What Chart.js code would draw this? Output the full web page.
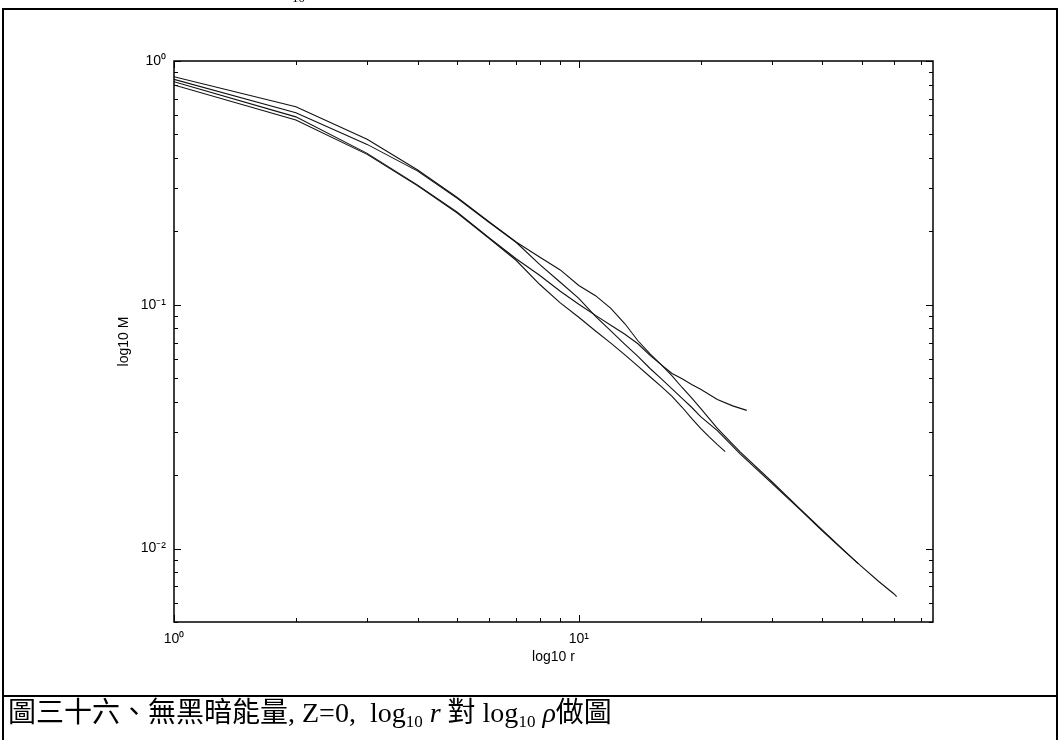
<!DOCTYPE html>
<html>
<head>
<meta charset="utf-8">
<script src="https://cdn.jsdelivr.net/npm/chart.js@4.4.1/dist/chart.umd.min.js"></script>
<style>
    html, body { margin: 0; padding: 0; background: #fff; width: 1060px; height: 740px; overflow: hidden; }
    #chart { position: absolute; left: 0; top: 0; }
    .frame { position: absolute; left: 2px; top: 8px; width: 1056px; height: 780px; border: 2px solid #000; box-sizing: border-box; }
    .sep { position: absolute; left: 2px; top: 695px; width: 1056px; height: 2px; background: #000; }
    .caption {
        position: absolute; left: 8px; top: 696px; line-height: 34px; white-space: nowrap;
        font-family: 'Liberation Serif', 'Noto Sans CJK TC', serif; font-size: 28px; color: #000;
    }
    .caption sub { font-size: 17px; vertical-align: -5px; line-height: 0; }
    .top-bit { position: absolute; left: 292px; top: -10px; font-family: 'Liberation Serif', serif; font-size: 13px; }
</style>
</head>
<body>
<canvas id="chart" width="1060" height="695"></canvas>
<div class="frame"></div>
<div class="sep"></div>
<div class="top-bit">10</div>
<div class="caption">圖三十六、無黑暗能量, Z=0,&nbsp; log<sub>10</sub>&nbsp;<i>r</i>&nbsp;對&nbsp;log<sub>10</sub>&nbsp;<i>ρ</i>做圖</div>

<script>
// --- DADOS ---
const rA = [1, 2, 3, 4, 5, 6, 7, 8, 9, 10, 11, 12, 13, 14, 15, 16, 17, 18, 19, 20, 22, 24, 26];
const mA = [0.862, 0.649, 0.478, 0.357, 0.276, 0.219, 0.181, 0.157, 0.139, 0.120, 0.109, 0.0967, 0.0836, 0.0712, 0.0629, 0.0567, 0.0523, 0.0497, 0.0471, 0.0450, 0.0409, 0.0385, 0.0369];

const rB = [1, 2, 3, 4, 5, 6, 7, 8, 9, 10, 11, 12, 13, 14, 15, 16, 17, 18, 19, 20, 21, 22, 23];
const mB = [0.797, 0.573, 0.414, 0.3075, 0.2386, 0.1875, 0.1523, 0.1214, 0.1019, 0.0889, 0.0781, 0.0696, 0.0623, 0.0560, 0.0507, 0.0462, 0.0421, 0.0380, 0.0342, 0.0311, 0.0287, 0.0267, 0.0250];

const rC = [1, 2, 3, 4, 5, 6, 7, 8, 9, 10, 11, 12, 13, 14, 15, 16, 17, 18, 19, 20, 22, 25, 30, 35, 40, 45, 49];
const mC = [0.822, 0.590, 0.418, 0.3096, 0.2405, 0.1886, 0.1545, 0.1322, 0.1136, 0.1005, 0.0905, 0.0824, 0.0757, 0.0692, 0.0620, 0.0567, 0.0511, 0.0458, 0.0415, 0.0376, 0.0311, 0.0250, 0.0188, 0.0147, 0.0119, 0.00991, 0.00868];

const rD = [1, 2, 3, 4, 5, 6, 7, 8, 9, 10, 11, 12, 13, 14, 15, 16, 17, 18, 19, 20, 22, 25, 30, 35, 40, 45, 50, 55, 60, 61];
const mD = [0.841, 0.613, 0.455, 0.3535, 0.2738, 0.2182, 0.1805, 0.1466, 0.1237, 0.1063, 0.0897, 0.0782, 0.0688, 0.0614, 0.0548, 0.0497, 0.0452, 0.0413, 0.0380, 0.0348, 0.0305, 0.0245, 0.0185, 0.0146, 0.0118, 0.00986, 0.00844, 0.00735, 0.00653, 0.00635];

// rótulos das décadas
const xDecades = [1, 10];
const xDecadeLabels = ['10⁰', '10¹'];
const yDecades = [1, 0.1, 0.01];
const yDecadeLabels = ['10⁰', '10⁻¹', '10⁻²'];

document.addEventListener('DOMContentLoaded', () => {
    const FONT = "'Liberation Sans', Arial, sans-serif";

    const toPoints = (rs, ms) => rs.map((r, i) => ({ x: r, y: ms[i] }));

    const decadeLabel = (value, decades, labels) => {
        const i = decades.findIndex(d => Math.abs(Math.log10(value) - Math.log10(d)) < 1e-6);
        return i >= 0 ? labels[i] : '';
    };

    // --- caixa do eixo com ticks para dentro (estilo MATLAB) ---
    const axisBox = {
        id: 'axisBox',
        afterDraw(chart) {
            const { ctx, chartArea: a, scales: { x, y } } = chart;
            const isMajor = v => Math.abs(Math.log10(v) - Math.round(Math.log10(v))) < 1e-6;
            const isStep = v => {
                const m = v / Math.pow(10, Math.floor(Math.log10(v) + 1e-9));
                return Math.abs(m - Math.round(m)) < 1e-6;
            };
            const seg = (x1, y1, x2, y2) => { ctx.beginPath(); ctx.moveTo(x1, y1); ctx.lineTo(x2, y2); ctx.stroke(); };

            ctx.save();
            ctx.strokeStyle = '#000';
            ctx.lineWidth = 1;
            x.ticks.forEach(t => {
                if (!isStep(t.value)) return;
                const px = Math.round(x.getPixelForValue(t.value)) + 0.5;
                const len = isMajor(t.value) ? 7 : 4;
                seg(px, a.bottom, px, a.bottom - len);
                seg(px, a.top, px, a.top + len);
            });
            y.ticks.forEach(t => {
                if (!isStep(t.value)) return;
                const py = Math.round(y.getPixelForValue(t.value)) + 0.5;
                const len = isMajor(t.value) ? 7 : 4;
                seg(a.left, py, a.left + len, py);
                seg(a.right, py, a.right - len, py);
            });
            ctx.lineWidth = 1.5;
            ctx.strokeRect(a.left, a.top, a.right - a.left, a.bottom - a.top);
            ctx.restore();
        }
    };

    const lineStyle = { borderColor: '#111', borderWidth: 1.1, pointRadius: 0, tension: 0, fill: false };

    new Chart(document.getElementById('chart').getContext('2d'), {
        type: 'line',
        data: {
            datasets: [
                { label: 'A', data: toPoints(rA, mA), ...lineStyle },
                { label: 'B', data: toPoints(rB, mB), ...lineStyle },
                { label: 'C', data: toPoints(rC, mC), ...lineStyle },
                { label: 'D', data: toPoints(rD, mD), ...lineStyle }
            ]
        },
        options: {
            responsive: false,
            animation: false,
            layout: { padding: { top: 61, right: 127, left: 100, bottom: 0 } },
            plugins: { legend: { display: false }, tooltip: { enabled: false } },
            scales: {
                x: {
                    type: 'logarithmic',
                    min: 1,
                    max: 75,
                    grid: { display: false, drawTicks: false },
                    border: { display: false },
                    ticks: {
                        autoSkip: false,
                        maxRotation: 0,
                        padding: 9,
                        color: '#000',
                        font: { family: FONT, size: 14 },
                        callback: v => decadeLabel(v, xDecades, xDecadeLabels)
                    },
                    title: {
                        display: true,
                        text: 'log10 r',
                        color: '#000',
                        font: { family: FONT, size: 14 },
                        padding: { top: 0, bottom: 29 }
                    },
                    afterFit: scale => { scale.height = 73; }
                },
                y: {
                    type: 'logarithmic',
                    min: 0.005,
                    max: 1,
                    grid: { display: false, drawTicks: false },
                    border: { display: false },
                    ticks: {
                        autoSkip: false,
                        padding: 8,
                        color: '#000',
                        font: { family: FONT, size: 14 },
                        callback: v => decadeLabel(v, yDecades, yDecadeLabels)
                    },
                    title: {
                        display: true,
                        text: 'log10 M',
                        color: '#000',
                        font: { family: FONT, size: 14 },
                        padding: { top: 16, bottom: 0 }
                    },
                    afterFit: scale => { scale.width = 74; }
                }
            }
        },
        plugins: [axisBox]
    });
});
</script>
</body>
</html>
